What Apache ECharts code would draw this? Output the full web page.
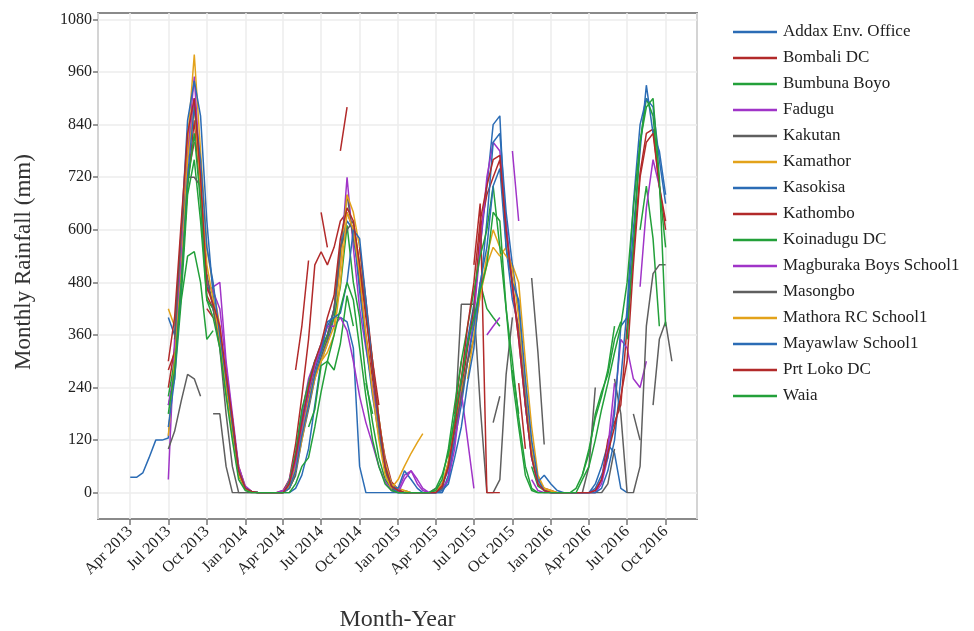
<!DOCTYPE html>
<html><head><meta charset="utf-8">
<script src="https://cdn.jsdelivr.net/npm/echarts@6/dist/echarts.min.js"></script>
<style>html,body{margin:0;padding:0;background:#fff}#c{width:974px;height:631px}</style>
</head><body><div id="c"></div>
<script>
const n = null;
const stations = ['Addax Env. Office','Bombali DC','Bumbuna Boyo','Fadugu','Kakutan','Kamathor','Kasokisa','Kathombo','Koinadugu DC','Magburaka Boys School1','Masongbo','Mathora RC School1','Mayawlaw School1','Prt Loko DC','Waia'];
const palette = ['#2b6cb5','#b22a2a','#23a03a','#a034c8','#5f5f5f','#e3a21a','#2b6cb5','#b22a2a','#23a03a','#a034c8','#5f5f5f','#e3a21a','#2b6cb5','#b22a2a','#23a03a'];
const yTicks = {min: 0, max: 1080, step: 120};
const monthNames = ['Jan','Feb','Mar','Apr','May','Jun','Jul','Aug','Sep','Oct','Nov','Dec'];
// sampling: 1st and 16th of each month, Apr 2013 .. Oct 2016
const startYear = 2013, startMonth = 3, monthCount = 43;

// values (mm), two per month; rows: 2013 Apr-Dec | 2014 | 2015 | 2016 Jan-Oct
const addax = [35,35,45,80,120,120,125,320,520,760,900,700,480,430,340,240,150,50,
 10,3,0,0,0,0,0,0,10,40,100,200,300,340,400,400,390,330,60,0,0,0,0,0,
 0,0,0,0,0,0,0,0,40,150,250,350,430,560,700,840,860,560,440,380,200,80,20,5,
 0,0,0,0,0,0,0,20,60,110,90,10,0,n,n,n,n,n,n,n];
const bombali = [n,n,n,n,n,n,240,330,480,700,850,680,450,420,360,260,160,60,
 12,3,0,0,0,0,5,30,110,220,350,520,550,520,560,620,640,600,480,360,260,160,80,25,
 8,0,0,0,0,0,0,20,60,150,230,330,420,600,680,720,760,600,480,360,220,100,30,10,
 5,0,0,0,0,0,0,0,30,120,160,200,380,550,730,820,830,700,600,n];
const bumbuna = [n,n,n,n,n,n,200,260,440,540,550,480,350,370,n,240,130,40,
 10,n,n,n,n,n,n,10,40,n,150,190,290,300,280,340,450,380,n,250,180,n,40,10,
 n,5,0,n,n,n,10,n,80,170,260,n,380,480,420,400,380,n,280,180,n,60,15,5,
 n,0,0,n,n,40,90,180,230,270,350,390,n,n,600,700,580,380,n,n];
const fadugu = [n,n,n,n,n,n,30,350,560,780,950,720,460,470,480,300,180,60,
 15,3,0,0,0,0,0,30,90,180,260,300,320,360,420,520,720,560,420,330,240,150,70,20,
 5,40,50,20,5,0,10,20,50,120,220,300,400,560,720,800,780,620,470,350,200,80,20,5,
 0,0,0,0,0,0,0,0,20,80,200,350,330,260,240,300,n,n,n,n];
const kakutan = [n,n,n,n,n,n,100,140,210,270,260,220,n,180,180,60,0,0,
 0,0,0,0,0,0,0,20,70,150,220,280,330,360,420,550,680,580,500,420,300,170,70,20,
 5,0,0,0,0,0,0,10,70,150,430,430,430,200,0,0,30,270,400,n,n,n,n,n,
 0,0,0,0,0,0,60,240,n,n,260,180,0,0,60,380,500,520,520,n];
const kamathor = [n,n,n,n,n,n,420,380,560,800,1000,780,560,470,380,260,150,50,
 10,3,0,0,0,0,0,15,60,140,210,270,300,340,380,520,680,640,560,420,300,170,70,20,
 10,5,0,0,0,0,5,20,70,150,230,300,350,450,540,600,560,540,520,480,300,150,40,10,
 3,0,0,0,0,0,0,n,n,n,n,n,n,n,n,n,n,n,n,n];
const kasokisa = [n,n,n,n,n,n,400,360,600,850,940,860,620,450,340,230,140,40,
 10,3,0,0,0,0,0,20,80,170,240,300,340,380,410,560,620,600,460,340,220,130,50,15,
 10,50,30,10,0,0,0,0,30,120,200,300,380,460,620,800,820,640,520,420,230,90,25,40,
 20,5,0,0,0,0,0,10,40,80,180,380,400,600,780,930,820,780,680,n];
const kathombo = [n,n,n,n,n,n,280,320,n,720,800,n,420,400,n,270,160,n,
 n,n,n,n,n,n,n,n,280,380,530,n,640,560,n,780,880,n,560,440,300,200,n,n,
 n,n,n,n,n,n,n,n,n,180,300,n,520,660,0,0,0,n,n,250,100,n,n,n,
 n,n,n,n,n,n,n,n,n,n,n,n,n,n,n,n,n,n,n,n];
const koinadugu = [n,n,n,n,n,n,220,300,450,680,760,620,440,420,340,230,140,40,
 8,2,0,0,0,0,0,25,90,190,250,300,320,360,400,470,610,480,400,260,160,80,30,10,
 0,0,0,0,0,0,5,30,100,200,300,380,460,540,600,700,560,420,300,170,60,10,0,0,
 0,0,0,0,10,40,100,170,220,280,380,n,350,560,800,900,860,700,560,n];
const magburaka = [n,n,n,n,n,n,200,280,540,760,900,700,480,460,420,290,170,50,
 10,2,0,0,0,0,5,20,70,150,230,290,330,380,380,400,370,300,220,160,110,60,25,5,
 0,30,50,30,10,0,0,10,30,100,230,120,10,n,360,380,400,n,780,620,n,30,5,0,
 0,0,0,0,0,0,0,5,30,100,250,n,n,n,470,650,760,700,n,n];
const masongbo = [n,n,n,n,n,n,n,350,600,720,720,700,500,420,330,180,60,0,
 0,0,0,0,0,0,0,10,40,120,190,260,310,350,420,560,600,620,520,420,280,150,50,10,
 0,0,0,0,0,0,0,10,60,140,220,300,350,n,n,160,220,n,n,n,n,490,320,110,n,0,
 0,0,0,0,0,0,0,20,100,n,n,180,120,n,200,350,390,300,210,n];
const mathora = [n,n,n,n,n,n,130,300,500,760,880,700,520,440,350,240,130,40,
 8,2,0,0,0,0,0,10,50,120,200,260,300,320,360,480,640,600,500,360,230,120,40,10,
 30,60,90,115,135,n,n,n,n,n,n,260,360,450,520,560,540,560,510,400,250,100,30,10,
 5,0,0,0,n,n,n,n,n,n,n,n,n,n,n,n,n,n,n,n];
const mayawlaw = [n,n,n,n,n,n,150,260,480,720,880,760,560,480,360,260,160,50,
 10,3,0,0,0,0,0,10,50,130,200,270,320,390,400,410,480,600,580,440,280,160,60,15,
 0,0,0,0,0,0,0,5,20,80,150,250,330,480,560,700,740,560,480,440,260,120,30,5,
 0,0,0,0,0,0,0,0,10,50,120,260,420,660,840,900,880,760,660,n];
const prtLoko = [n,n,n,n,n,n,300,400,620,820,900,720,470,430,380,270,170,50,
 10,3,0,0,0,0,0,20,80,160,240,300,340,400,450,580,650,620,520,400,280,170,60,15,
 5,0,0,0,0,0,0,15,60,150,260,380,480,620,700,760,770,600,470,350,200,80,20,5,
 0,0,0,0,0,0,0,5,30,90,150,220,300,520,720,800,820,700,620,n];
const waia = [n,n,n,n,n,n,180,280,480,700,820,660,440,400,330,220,120,30,
 5,0,0,0,0,0,0,0,20,60,80,150,230,300,360,420,480,440,330,220,120,60,20,5,
 0,0,0,0,0,0,10,40,90,170,260,340,400,460,520,640,620,420,260,150,40,5,0,0,
 0,0,0,0,0,30,60,120,190,250,320,380,480,650,800,880,900,720,380,n];
const seriesValues = [addax,bombali,bumbuna,fadugu,kakutan,kamathor,kasokisa,kathombo,koinadugu,magburaka,masongbo,mathora,mayawlaw,prtLoko,waia];

const pad = v => (v < 10 ? '0' : '') + v;
const sampleDates = [];
for (let k = 0; k < monthCount; k++) {
  const y = startYear + Math.floor((startMonth + k) / 12);
  const m = (startMonth + k) % 12 + 1;
  sampleDates.push(y + '-' + pad(m) + '-01', y + '-' + pad(m) + '-16');
}

const serif = 'Liberation Serif, Times New Roman, serif';
const xMin = '2013-01-14', xMax = '2016-12-15';
const chart = echarts.init(document.getElementById('c'), null, {renderer: 'canvas'});
chart.setOption({
  animation: false,
  backgroundColor: '#fff',
  grid: [
    {left: 98, right: 277, top: 13, bottom: 112, outerBoundsMode: 'none', containLabel: false,
     show: true, borderColor: '#8a8a8a', borderWidth: 2, backgroundColor: 'transparent'},
    {left: 98, right: 277, top: 19.5, bottom: 138.3, outerBoundsMode: 'none', containLabel: false}
  ],
  xAxis: [
    {type: 'time', gridIndex: 0, min: xMin, max: xMax,
     minInterval: 85 * 864e5, maxInterval: 95 * 864e5,
     axisLine: {show: false},
     axisTick: {show: true, length: 6, lineStyle: {color: '#777', width: 1.5}},
     splitLine: {show: true, lineStyle: {color: '#ececec', width: 1.5}},
     axisLabel: {rotate: 45, fontFamily: serif, fontSize: 16, color: '#222', margin: 10, hideOverlap: false,
       formatter: v => { const d = new Date(v); return monthNames[d.getMonth()] + ' ' + d.getFullYear(); }},
     name: 'Month-Year', nameLocation: 'middle', nameGap: 89,
     nameTextStyle: {fontFamily: serif, fontSize: 24, color: '#333'}},
    {type: 'time', gridIndex: 1, min: xMin, max: xMax, show: false, splitLine: {show: false}}
  ],
  yAxis: [
    {type: 'value', gridIndex: 0, min: 0, max: 1, show: false, splitLine: {show: false}},
    {type: 'value', gridIndex: 1, min: yTicks.min, max: yTicks.max, interval: yTicks.step,
     axisLine: {show: false},
     axisTick: {show: true, length: 5, lineStyle: {color: '#777', width: 1.5}},
     splitLine: {show: true, lineStyle: {color: '#ececec', width: 1.5}},
     axisLabel: {fontFamily: serif, fontSize: 16, color: '#222', margin: 6, formatter: v => String(v)},
     name: 'Monthly Rainfall (mm)', nameLocation: 'middle', nameGap: 63, nameRotate: 90,
     nameTextStyle: {fontFamily: serif, fontSize: 23, color: '#333', padding: [0, 12, 0, 0]}}
  ],
  legend: {
    orient: 'vertical', left: 728, top: 17, itemWidth: 44, itemHeight: 2.5, itemGap: 6,
    icon: 'rect', data: stations,
    textStyle: {fontFamily: serif, fontSize: 17, color: '#222', lineHeight: 20, padding: [0, 0, 0, 1]}
  },
  series: stations.map((name, i) => ({
    name, type: 'line', xAxisIndex: 1, yAxisIndex: 1,
    showSymbol: false, symbol: 'none', connectNulls: false,
    color: palette[i],
    lineStyle: {width: 1.5, color: palette[i]},
    data: seriesValues[i].map((v, j) => [sampleDates[j], v])
  }))
});
</script></body></html>
